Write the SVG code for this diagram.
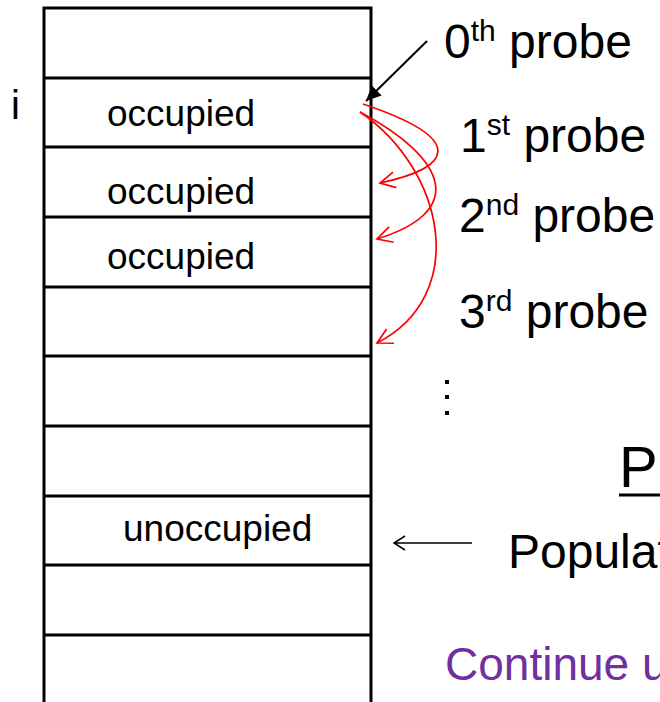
<svg xmlns="http://www.w3.org/2000/svg" width="660" height="702" viewBox="0 0 660 702">
<defs>
<style>
text{font-family:"Liberation Sans",Arial,sans-serif;fill:#000}
.cell{font-size:37px}
.lbl{font-size:48px}
.sup{font-size:30px}
.grid{stroke:#000;stroke-width:3;fill:none}
.red{stroke:#f00;stroke-width:1.7;fill:none;marker-end:url(#ro)}
</style>
<marker id="ro" markerWidth="20" markerHeight="20" refX="0" refY="0" viewBox="-18 -10 20 20" markerUnits="userSpaceOnUse" orient="auto">
<path d="M-15,-8 L0,0 L-15,8" stroke="#f00" stroke-width="1.7" fill="none"/>
</marker>
<marker id="bk" markerWidth="20" markerHeight="20" refX="0" refY="0" viewBox="-18 -10 20 20" markerUnits="userSpaceOnUse" orient="auto">
<path d="M-15,-7 L0,0 L-15,7 Z" fill="#000"/>
</marker>
</defs>
<rect width="660" height="702" fill="#fff"/>
<g id="table">
<path class="grid" d="M44,702 V8 H371 V702 M44,78 H371 M44,147 H371 M44,217 H371 M44,287 H371 M44,356 H371 M44,426 H371 M44,496 H371 M44,565 H371 M44,635 H371"/>
</g>
<g id="row-i"><text x="11" y="119" style="font-size:40px">i</text><text class="cell" x="107" y="126">occupied</text></g>
<g id="row-2"><text class="cell" x="107" y="204">occupied</text></g>
<g id="row-3"><text class="cell" x="107" y="269">occupied</text></g>
<g id="row-free"><text class="cell" x="123" y="541">unoccupied</text></g>
<g id="labels">
<text class="lbl" x="444" y="58">0<tspan class="sup" dy="-17">th</tspan><tspan dy="17"> probe</tspan></text>
<text class="lbl" x="460" y="152">1<tspan class="sup" dy="-17">st</tspan><tspan dy="17"> probe</tspan></text>
<text class="lbl" x="459" y="232">2<tspan class="sup" dy="-17">nd</tspan><tspan dy="17"> probe</tspan></text>
<text class="lbl" x="459" y="328">3<tspan class="sup" dy="-17">rd</tspan><tspan dy="17"> probe</tspan></text>
<rect x="445" y="380" width="4" height="4"/><rect x="445" y="395" width="4" height="4"/><rect x="445" y="411" width="4" height="4"/>
<text x="619" y="487" style="font-size:58px">P</text>
<line x1="619" y1="495" x2="660" y2="495" stroke="#000" stroke-width="3"/>
<text class="lbl" x="508" y="568">Populat</text>
<text x="445" y="680" style="font-size:46px;fill:#7030a0">Continue u</text>
</g>
<g id="connectors">
<line x1="427" y1="41" x2="366" y2="101" stroke="#000" stroke-width="2" marker-end="url(#bk)"/>
<path class="red" d="M363,104 C470,140 450,168 380,183"/>
<path class="red" d="M360,112 C450,160 465,212 377,239"/>
<path class="red" d="M360,112 C445,170 470,295 377,343"/>
<path d="M472,543 H394 M405,536 L394,543 L405,550" stroke="#000" stroke-width="1.5" fill="none"/>
</g>
</svg>
